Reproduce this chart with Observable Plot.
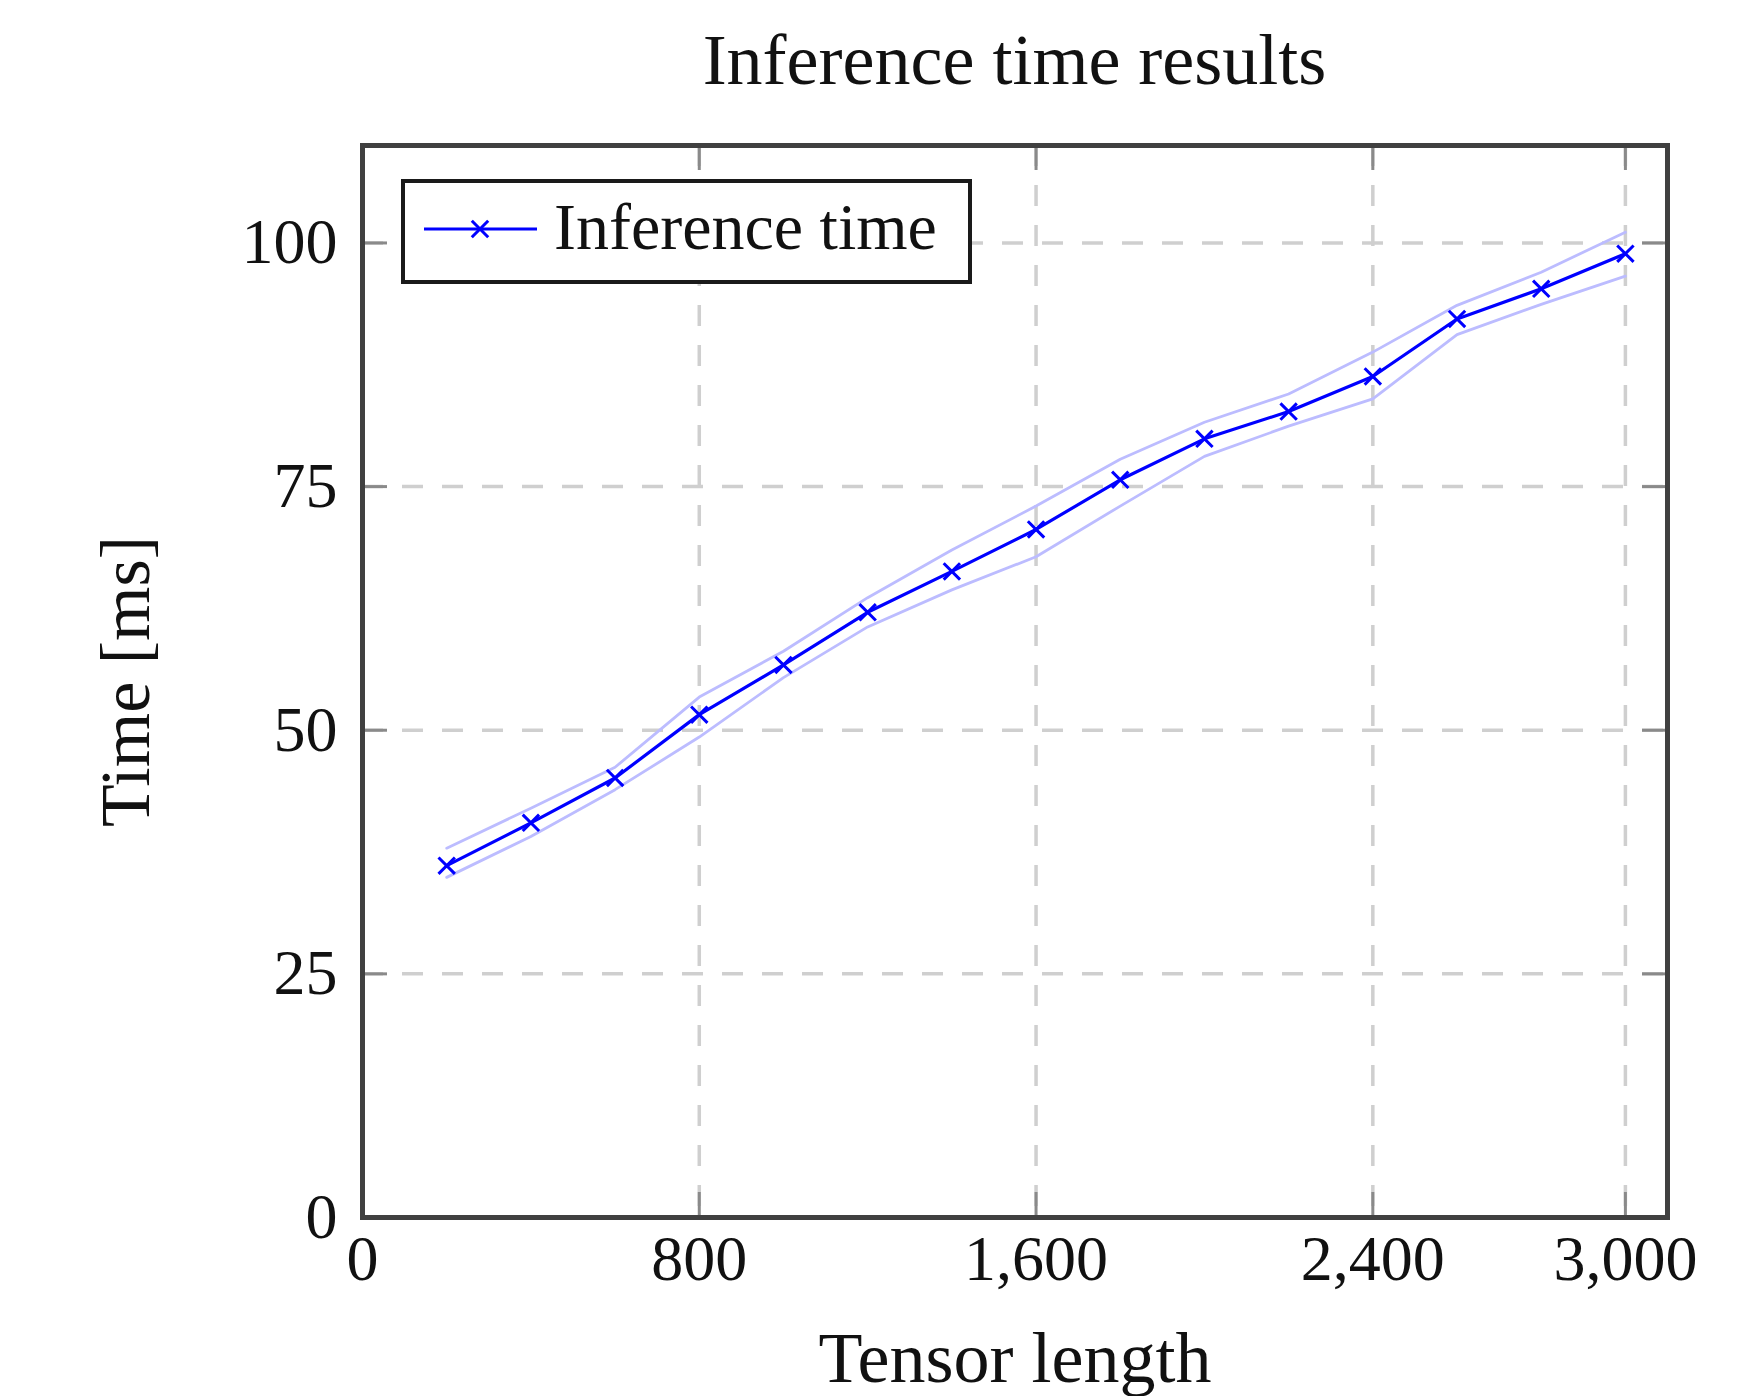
<!DOCTYPE html>
<html>
<head>
<meta charset="utf-8">
<script src="https://cdn.jsdelivr.net/npm/d3@7"></script>
<script src="https://cdn.jsdelivr.net/npm/@observablehq/plot@0.6"></script>
<style>
  html, body { margin: 0; padding: 0; background: #fff; }
  #wrap { position: relative; width: 1762px; height: 1396px; font-family: "Liberation Serif", "DejaVu Serif", serif; color: #111; }
  #title { position: absolute; left: 362px; width: 1305px; top: 24px; height: 72px; line-height: 72px; font-size: 72px; text-align: center; white-space: nowrap; }
  #chart { position: absolute; left: 0; top: 110px; }
  #legend { position: absolute; left: 401px; top: 179px; width: 563px; height: 97px; border: 4px solid #1a1a1a; background: #fff; }
  #legend svg { position: absolute; left: 0; top: 0; }
  #legend .lab { position: absolute; left: 149px; top: 11px; font-size: 66px; line-height: 66px; white-space: nowrap; }
</style>
</head>
<body>
<div id="wrap">
  <div id="title">Inference time results</div>
  <div id="chart"></div>
  <div id="legend"></div>
</div>
<script>
// ---- data ----
const tensorLength = [200, 400, 600, 800, 1000, 1200, 1400, 1600, 1800, 2000, 2200, 2400, 2600, 2800, 3000];
const timeMs      = [36.1, 40.5, 45.1, 51.6, 56.7, 62.1, 66.3, 70.6, 75.7, 79.9, 82.7, 86.3, 92.2, 95.3, 98.9];
const timeUpper   = [37.9, 42.0, 46.2, 53.4, 58.1, 63.6, 68.5, 73.0, 77.8, 81.6, 84.5, 88.8, 93.6, 97.0, 101.1];
const timeLower   = [34.9, 39.1, 43.9, 49.3, 55.4, 60.6, 64.4, 67.8, 73.0, 78.1, 81.2, 84.0, 90.6, 93.7, 96.6];
const xTicks = [0, 800, 1600, 2400, 3000];
const yTicks = [0, 25, 50, 75, 100];
const xGrid = [800, 1600, 2400, 3000];
const yGrid = [25, 50, 75, 100];
const seriesName = "Inference time";

const rows = tensorLength.map((x, i) => ({x, y: timeMs[i], hi: timeUpper[i], lo: timeLower[i]}));

const W = 1762, H = 1286;
const mL = 362, mR = 95, mT = 35, mB = 179;
const fw = W - mL - mR, fh = H - mT - mB;
const tickLen = 25;
const blue = "#0000ff", band = "#bcbcff";
const gridStyle = {stroke: "#cfcfcf", strokeWidth: 3.5, strokeDasharray: "21,19"};
const tickStyle = {stroke: "#8a8a8a", strokeWidth: 3};

const chart = Plot.plot({
  width: W, height: H,
  marginLeft: mL, marginRight: mR, marginTop: mT, marginBottom: mB,
  style: {fontFamily: "Liberation Serif, DejaVu Serif, serif", color: "#111", background: "#fff", overflow: "visible"},
  x: {domain: [0, 3100]},
  y: {domain: [0, 110]},
  marks: [
    Plot.ruleX(xGrid, gridStyle),
    Plot.ruleY(yGrid, gridStyle),
    // inside tick marks on all four sides
    Plot.ruleX(xTicks, {...tickStyle, insetTop: fh - tickLen}),
    Plot.ruleX(xTicks, {...tickStyle, insetBottom: fh - tickLen}),
    Plot.ruleY(yTicks, {...tickStyle, insetRight: fw - tickLen}),
    Plot.ruleY(yTicks, {...tickStyle, insetLeft: fw - tickLen}),
    // band edges
    Plot.line(rows, {x: "x", y: "hi", stroke: band, strokeWidth: 2.8}),
    Plot.line(rows, {x: "x", y: "lo", stroke: band, strokeWidth: 2.8}),
    // main series
    Plot.line(rows, {x: "x", y: "y", stroke: blue, strokeWidth: 3.2}),
    Plot.dot(rows, {x: "x", y: "y", symbol: "times", r: 7.5, stroke: blue, strokeWidth: 3}),
    Plot.frame({stroke: "#404040", strokeWidth: 5}),
    Plot.axisX(xTicks, {tickSize: 0, tickPadding: 17, fontSize: 64, tickFormat: d3.format(","), label: null}),
    Plot.axisY(yTicks, {tickSize: 0, tickPadding: 25, fontSize: 64, label: null}),
    Plot.text(["Tensor length"], {frameAnchor: "bottom", dy: 141, fontSize: 72, lineAnchor: "middle", textAnchor: "middle", fill: "#111"}),
    Plot.text(["Time [ms]"], {frameAnchor: "left", dx: -236, rotate: -90, fontSize: 70, lineAnchor: "middle", textAnchor: "middle", fill: "#111"})
  ]
});
document.getElementById("chart").appendChild(chart);

// legend
const lg = document.getElementById("legend");
const ns = "http://www.w3.org/2000/svg";
const s = document.createElementNS(ns, "svg");
s.setAttribute("width", 140); s.setAttribute("height", 97);
const cy = 46;
const ln = document.createElementNS(ns, "line");
ln.setAttribute("x1", 19); ln.setAttribute("x2", 132); ln.setAttribute("y1", cy); ln.setAttribute("y2", cy);
ln.setAttribute("stroke", blue); ln.setAttribute("stroke-width", 3.2);
s.appendChild(ln);
const c = 8.2, cx = 75;
const cr = document.createElementNS(ns, "path");
cr.setAttribute("d", `M${cx-c},${cy-c}L${cx+c},${cy+c}M${cx-c},${cy+c}L${cx+c},${cy-c}`);
cr.setAttribute("stroke", blue); cr.setAttribute("stroke-width", 3);
s.appendChild(cr);
lg.appendChild(s);
const lab = document.createElement("div");
lab.className = "lab"; lab.textContent = seriesName;
lg.appendChild(lab);
</script>
</body>
</html>
